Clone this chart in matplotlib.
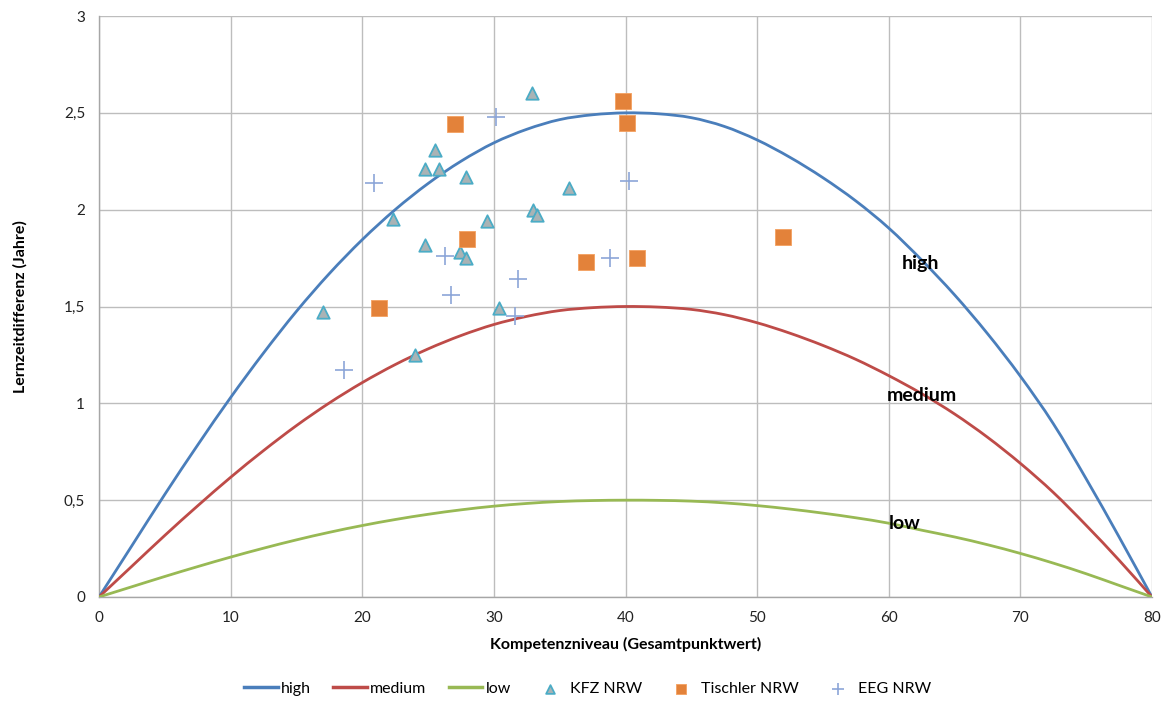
import matplotlib
matplotlib.use("Agg")
import matplotlib.pyplot as plt
from matplotlib.lines import Line2D
from matplotlib.path import Path
from matplotlib.patches import PathPatch

plt.rcParams['font.family'] = ['Lato', 'DejaVu Sans']

# Model curves: learning-time difference over competence level
curve_x = [0, 2.5, 5, 7.5, 10, 12.5, 15, 17.5, 20, 22.5, 25, 27.5, 30, 32.5, 35, 37.5,
           40, 42.5, 45, 47.5, 50, 52.5, 55, 57.5, 60, 62.5, 65, 67.5, 70, 72.5, 75, 77.5, 80]
high = [0, 0.265, 0.53, 0.785, 1.03, 1.26, 1.475, 1.67, 1.845, 2.0, 2.135, 2.25, 2.345,
        2.415, 2.465, 2.49, 2.50, 2.495, 2.475, 2.43, 2.36, 2.27, 2.165, 2.045, 1.905,
        1.74, 1.56, 1.36, 1.14, 0.895, 0.61, 0.31, 0]
medium = [0, 0.159, 0.318, 0.471, 0.618, 0.756, 0.885, 1.002, 1.107, 1.2, 1.281, 1.35,
          1.407, 1.449, 1.479, 1.494, 1.50, 1.497, 1.485, 1.458, 1.416, 1.362, 1.299,
          1.227, 1.143, 1.05, 0.945, 0.825, 0.69, 0.54, 0.37, 0.19, 0]
low = [0, 0.053, 0.106, 0.157, 0.206, 0.252, 0.295, 0.334, 0.369, 0.40, 0.427, 0.45,
       0.469, 0.483, 0.493, 0.498, 0.50, 0.499, 0.495, 0.486, 0.472, 0.454, 0.433, 0.409,
       0.381, 0.345, 0.31, 0.27, 0.225, 0.175, 0.12, 0.06, 0]

# Observed groups
kfz_x = [17.0, 22.3, 24.0, 24.75, 24.8, 25.5, 25.8, 27.4, 27.9, 27.9, 29.5, 30.4, 32.9, 32.95, 33.3, 35.7]
kfz_y = [1.47, 1.95, 1.25, 2.21, 1.82, 2.31, 2.21, 1.78, 2.17, 1.75, 1.94, 1.49, 2.60, 2.00, 1.97, 2.11]

tischler_x = [21.3, 27.06, 27.98, 36.99, 39.8, 40.1, 40.87, 51.99]
tischler_y = [1.49, 2.44, 1.85, 1.73, 2.56, 2.45, 1.75, 1.86]

eeg_x = [18.6, 20.87, 26.28, 26.73, 30.14, 31.6, 31.81, 38.84, 40.24]
eeg_y = [1.17, 2.14, 1.76, 1.56, 2.48, 1.45, 1.64, 1.75, 2.15]

x_ticks = [0, 10, 20, 30, 40, 50, 60, 70, 80]
y_ticks = [0, 0.5, 1, 1.5, 2, 2.5, 3]
y_tick_labels = ["0", "0,5", "1", "1,5", "2", "2,5", "3"]

c_high = "#4A7EBB"
c_medium = "#BE4B48"
c_low = "#98B954"


def smoothed_path(xs, ys):
    """Cubic Bezier path through the given points (smoothed line style)."""
    pts = list(zip(xs, ys))
    n = len(pts)
    verts = [pts[0]]
    codes = [Path.MOVETO]
    for i in range(n - 1):
        p0 = pts[i - 1] if i > 0 else pts[i]
        p1 = pts[i]
        p2 = pts[i + 1]
        p3 = pts[i + 2] if i + 2 < n else pts[i + 1]
        c1 = (p1[0] + (p2[0] - p0[0]) / 6, p1[1] + (p2[1] - p0[1]) / 6)
        c2 = (p2[0] - (p3[0] - p1[0]) / 6, p2[1] - (p3[1] - p1[1]) / 6)
        verts += [c1, c2, p2]
        codes += [Path.CURVE4] * 3
    return Path(verts, codes)


fig = plt.figure(figsize=(11.73, 7.04), dpi=100)
ax = fig.add_axes([99 / 1173, 1 - 597 / 704, (1152 - 99) / 1173, (597 - 16) / 704])

for ys, col in ((high, c_high), (medium, c_medium), (low, c_low)):
    ax.add_patch(PathPatch(smoothed_path(curve_x, ys), facecolor="none", edgecolor=col,
                           lw=2.0, capstyle="round", joinstyle="round", zorder=3))

h_kfz = ax.scatter(kfz_x, kfz_y, marker="^", s=80, facecolor="#A9B3B5", edgecolor="#4BACC6",
                   linewidths=1.3, label="KFZ NRW", zorder=4)
h_tis = ax.scatter(tischler_x, tischler_y, marker="s", s=120, facecolor="#E3823A",
                   edgecolor="#F4A060", linewidths=0.6, label="Tischler NRW", zorder=4)
h_eeg = ax.scatter(eeg_x, eeg_y, marker="+", s=170, color="#8CA6D8", linewidths=1.2,
                   label="EEG NRW", zorder=4)

ax.text(62.4, 1.72, "high", fontsize=14, fontweight="bold", ha="center", va="center", zorder=5)
ax.text(62.5, 1.04, "medium", fontsize=14, fontweight="bold", ha="center", va="center", zorder=5)
ax.text(61.2, 0.38, "low", fontsize=14, fontweight="bold", ha="center", va="center", zorder=5)

ax.set_xlim(0, 80)
ax.set_ylim(0, 3)
ax.set_xticks(x_ticks)
ax.set_xticklabels([str(v) for v in x_ticks])
ax.set_yticks(y_ticks)
ax.set_yticklabels(y_tick_labels)
ax.tick_params(length=0, labelsize=11, colors="#222222", pad=10)
ax.grid(True, color="#BDBDBD", lw=1.0)
ax.set_axisbelow(True)
for side in ("top", "right"):
    ax.spines[side].set_visible(False)
for side in ("left", "bottom"):
    ax.spines[side].set_color("#A6A6A6")
    ax.spines[side].set_linewidth(1.0)

ax.set_xlabel("Kompetenzniveau (Gesamtpunktwert)", fontsize=11.5, fontweight="bold", labelpad=9)
ax.set_ylabel("Lernzeitdifferenz (Jahre)", fontsize=11.5, fontweight="bold", labelpad=26)

handles = [Line2D([], [], color=c_high, lw=2.5),
           Line2D([], [], color=c_medium, lw=2.5),
           Line2D([], [], color=c_low, lw=2.5),
           h_kfz, h_tis, h_eeg]
labels = ["high", "medium", "low", "KFZ NRW", "Tischler NRW", "EEG NRW"]
fig.legend(handles, labels, loc="center", bbox_to_anchor=(588 / 1173, 1 - 689 / 704),
           ncol=6, frameon=False, fontsize=11.5, handlelength=2.1, columnspacing=1.4,
           handletextpad=0.2, markerscale=0.7)

fig.savefig("out.png", dpi=100)
